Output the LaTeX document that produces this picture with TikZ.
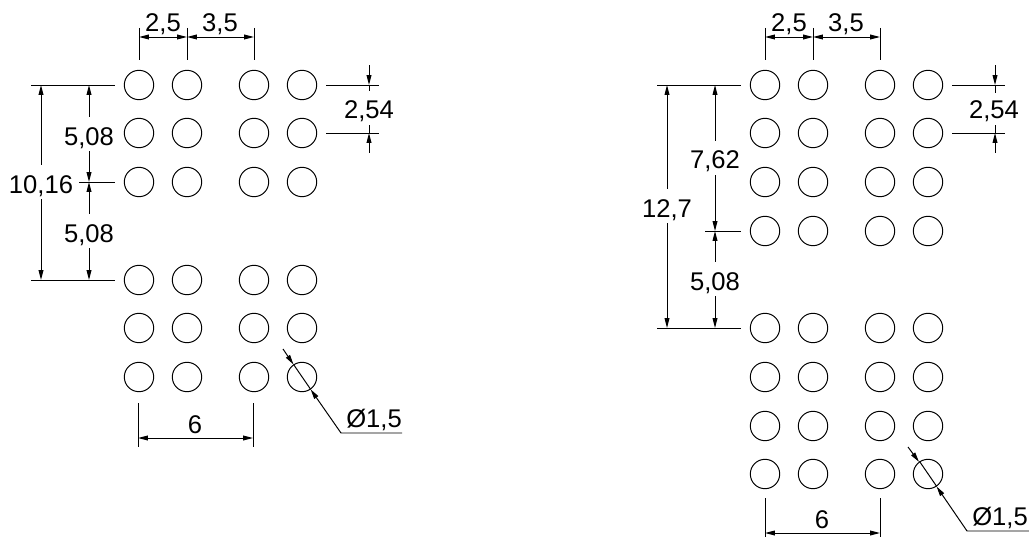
\documentclass[tikz,border=0pt]{standalone}
\usepackage{fontspec}
\setmainfont{Liberation Sans}
\usetikzlibrary{arrows.meta}
\tikzset{
  hole/.style={draw,circle,minimum size=20.9pt,inner sep=0pt,line width=.7pt},
  dimline/.style={line width=.7pt,>={Triangle[length=7pt,width=3.4pt]}},
  dimtext/.style={anchor=base,inner xsep=0pt,inner ysep=0pt,text height=19.8pt,text depth=4pt,font=\fontsize{18.2}{20}\selectfont}
}
\begin{document}
\begin{tikzpicture}[x=.025cm,y=-.025cm]
      \useasboundingbox (0,0) rectangle (1029,538);
      \foreach \x/\i in {139/1,187/2,254/3,302/4}
        \foreach \y/\j in {85/1,133/2,182/3,280/4,328/5,377/6}
          \node [hole] (l\i-\j) at (\x,\y) {};
      \foreach \x/\i in {765/1,813/2,880/3,928/4}
        \foreach \y/\j in {85/1,133/2,182/3,231/4,328/5,377/6,426/7,474/8}
          \node [hole] (r\i-\j) at (\x,\y) {};

      \node [dimtext] (la) at (163,32) {2,5};
      \node [dimtext] (lb) at (220,32) {3,5};
      \node [dimtext] (lc) at (41,193) {10,16};
      \node [dimtext] (ld) at (89,145) {5,08};
      \node [dimtext] (le) at (89,242) {5,08};
      \node [dimtext] (lf) at (369,119) {2,54};
      \node [dimtext] (lg) at (195,433) {6};
      \node [dimtext] (lh) at (374,427) {Ø1,5};

      \draw [dimline] (139,28) -- (139,60);
      \draw [dimline] (187,28) -- (187,60);
      \draw [dimline] (254,28) -- (254,60);
      \draw [dimline,<->] (139,37) -- (187,37);
      \draw [dimline,<->] (187,37) -- (254,37);
      \draw [dimline] (31,85) -- (115,85);
      \draw [dimline] (79,182) -- (115,182);
      \draw [dimline] (31,280) -- (115,280);
      \draw [dimline,<-] (41,85) -- (lc);
      \draw [dimline,<-] (41,280) -- (lc);
      \draw [dimline,<-] (89,85) -- (ld);
      \draw [dimline,<-] (89,182) -- (ld);
      \draw [dimline,<-] (89,182) -- (le);
      \draw [dimline,<-] (89,280) -- (le);
      \draw [dimline] (326,85) -- (379,85);
      \draw [dimline] (326,133) -- (379,133);
      \draw [dimline,<-] (369,85) -- (369,65);
      \draw [dimline] (369,85) -- (lf);
      \draw [dimline,<-] (369,133) -- (369,153);
      \draw [dimline] (369,133) -- (lf);
      \draw [dimline] (138,403) -- (138,447);
      \draw [dimline] (253,403) -- (253,447);
      \draw [dimline,<->] (138,438) -- (253,438);
      \draw [dimline,->] (283,349) -- (l4-6);
      \draw [dimline] (l4-6.124.6) -- (l4-6.-55.4);
      \draw [dimline,<-] (l4-6) -- (341,433) -- (402,433);

      \node [dimtext] (ra) at (789,32) {2,5};
      \node [dimtext] (rb) at (846,32) {3,5};
      \node [dimtext] (rc) at (667,217) {12,7};
      \node [dimtext] (rd) at (715,169) {7,62};
      \node [dimtext] (re) at (715,290) {5,08};
      \node [dimtext] (rf) at (994,119) {2,54};
      \node [dimtext] (rg) at (822,528) {6};
      \node [dimtext] (rh) at (1000,525) {Ø1,5};

      \draw [dimline] (765,28) -- (765,60);
      \draw [dimline] (813,28) -- (813,60);
      \draw [dimline] (880,28) -- (880,60);
      \draw [dimline,<->] (765,37) -- (813,37);
      \draw [dimline,<->] (813,37) -- (880,37);
      \draw [dimline] (657,85) -- (741,85);
      \draw [dimline] (705,231) -- (741,231);
      \draw [dimline] (657,328) -- (741,328);
      \draw [dimline,<-] (667,85) -- (rc);
      \draw [dimline,<-] (667,328) -- (rc);
      \draw [dimline,<-] (715,85) -- (rd);
      \draw [dimline,<-] (715,231) -- (rd);
      \draw [dimline,<-] (715,231) -- (re);
      \draw [dimline,<-] (715,328) -- (re);
      \draw [dimline] (952,85) -- (1005,85);
      \draw [dimline] (952,133) -- (1005,133);
      \draw [dimline,<-] (995,85) -- (995,65);
      \draw [dimline] (995,85) -- (995,93);
      \draw [dimline,<-] (995,133) -- (995,153);
      \draw [dimline] (995,133) -- (995,125);
      \draw [dimline] (765,498) -- (765,537);
      \draw [dimline] (880,498) -- (880,537);
      \draw [dimline,<->] (765,533) -- (880,533);
      \draw [dimline,->] (908,447) -- (r4-8);
      \draw [dimline] (r4-8.124.6) -- (r4-8.-55.4);
      \draw [dimline,<-] (r4-8) -- (967,531) -- (1029,531);
\end{tikzpicture}
\end{document}
